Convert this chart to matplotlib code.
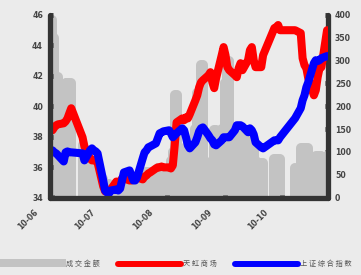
import matplotlib
matplotlib.use("Agg")
import matplotlib.pyplot as plt
import matplotlib.transforms as mtransforms
from matplotlib.lines import Line2D
from matplotlib.patches import Rectangle
import pandas as pd

plt.rcParams['font.family'] = ['Noto Sans CJK SC', 'DejaVu Sans']

# ---------------- data ----------------
trade_dates = (
    ["2010-06-%02d" % d for d in [1, 2, 3, 4, 7, 8, 9, 10, 11, 17, 18, 21, 22, 23, 24, 25, 28, 29, 30]] +
    ["2010-07-%02d" % d for d in [1, 2, 5, 6, 7, 8, 9, 12, 13, 14, 15, 16, 19, 20, 21, 22, 23, 26, 27, 28, 29, 30]] +
    ["2010-08-%02d" % d for d in [2, 3, 4, 5, 6, 9, 10, 11, 12, 13, 16, 17, 18, 19, 20, 23, 24, 25, 26, 27, 30, 31]] +
    ["2010-09-%02d" % d for d in [1, 2, 3, 6, 7, 8, 9, 10, 13, 14, 15, 16, 17, 20, 21, 27, 28, 29, 30]] +
    ["2010-10-%02d" % d for d in [8, 11, 12, 13, 14, 15, 18, 19, 20, 21, 22, 25]]
)

tianhong = [
    38.42, 38.61, 38.75, 38.81, 38.88, 39.0, 39.2, 39.54, 39.87, 37.96, 37.36, 36.57, 36.44, 36.44, 36.44, 36.3, 34.73, 34.4, 34.4,
    34.4, 34.53, 35.05, 35.0, 35.05, 35.25, 35.25, 35.12, 35.12, 35.25, 35.38, 35.32, 35.19, 35.38, 35.45, 35.58, 35.65, 35.91, 35.98, 35.98, 36.04, 35.98,
    35.98, 35.91, 36.11, 37.43, 38.94, 39.2, 39.08, 39.27, 39.2, 39.47, 40.39, 40.72, 41.25, 41.58, 41.71, 42.04, 42.24, 41.58, 41.19, 41.84, 43.36, 43.89,
    43.36, 42.57, 42.37, 42.04, 41.91, 42.5, 42.83, 42.37, 43.03, 43.69, 43.89, 43.03, 42.57, 42.57, 43.36, 45.14, 45.2, 45.34, 45.0,
    45.0, 44.81, 43.16, 42.7, 42.5, 41.84, 40.72, 41.05, 41.91, 42.5, 42.57, 45.0,
]

shanghai = [
    37.1, 36.97, 36.9, 36.77, 36.37, 36.97, 37.03, 36.97, 36.97, 36.9, 36.44, 37.1, 37.23, 37.1, 37.03, 36.9, 35.12, 34.46, 34.33,
    34.26, 34.46, 34.53, 34.46, 34.59, 35.12, 35.65, 35.78, 35.45, 35.12, 35.12, 35.32, 36.57, 36.97, 37.1, 37.3, 37.36, 37.56, 37.89, 38.22, 38.28, 38.35,
    38.42, 38.22, 37.96, 38.09, 38.22, 38.55, 38.42, 37.96, 37.43, 37.23, 37.63, 37.96, 38.35, 38.55, 38.61, 38.09, 37.89, 37.76, 37.49, 37.43, 37.76, 37.96,
    37.96, 37.96, 37.96, 38.42, 38.75, 38.75, 38.75, 38.68, 38.29, 38.55, 38.42, 38.15, 37.63, 37.3, 37.23, 37.76, 37.76, 37.76, 37.96,
    39.21, 39.87, 40.39, 40.72, 41.25, 41.58, 42.83, 43.03, 42.97, 43.03, 43.16, 43.3,
]

turnover = [
    390, 350, 265, 265, 230, 250, 250, 250, 250, 115, 100, 90, 70, 60, 60, 55, 40, 30, 30,
    30, 28, 25, 25, 25, 30, 30, 35, 30, 28, 28, 30, 45, 50, 55, 55, 55, 60, 65, 65, 65, 60,
    65, 80, 100, 224, 224, 80, 80, 110, 115, 110, 150, 230, 230, 290, 290, 70, 70, 80, 147, 147, 150, 150,
    250, 300, 300, 150, 150, 150, 100, 130, 130, 130, 130, 120, 80, 75, 75, 85, 85, 85, 85,
    65, 108, 108, 108, 108, 108, 80, 92, 92, 92, 92, 92,
]

month_ticks = ["2010-06-01", "2010-07-01", "2010-08-01", "2010-09-01", "2010-10-01"]
month_labels = ["10-06", "10-07", "10-08", "10-09", "10-10"]
legend_labels = ["成交金额", "天虹商场", "上证综合指数"]

# ---------------- styling ----------------
BG = "#ebebeb"
SPINE = "#333333"
GRAY = "#c3c3c3"
TXT = "#444444"

dates = pd.to_datetime(trade_dates)

fig = plt.figure(figsize=(3.61, 2.75), dpi=100, facecolor=BG)
ax2 = fig.add_axes([50 / 361, 1 - 197.5 / 275, 278 / 361, 182.5 / 275])
ax = ax2.twinx()
ax2.set_facecolor(BG)
ax.set_zorder(ax2.get_zorder() + 1)
ax.patch.set_visible(False)
ax.xaxis.set_visible(True)

# volume bars (right axis) as thick rounded strokes
vl = ax2.vlines(dates, 0, turnover, colors=GRAY, linewidth=7.2)
vl.set_capstyle("round")

# price lines (left axis)
ax.plot(dates, tianhong, color="#ff0000", linewidth=5.8, solid_capstyle="round", solid_joinstyle="round")
ax.plot(dates, shanghai, color="#0000ff", linewidth=5.8, solid_capstyle="round", solid_joinstyle="round")

x0 = pd.Timestamp("2010-05-30 17:00")
x1 = pd.Timestamp("2010-10-25 12:00")
ax2.set_xlim(x0, x1)
ax2.set_ylim(0, 400)
ax.set_ylim(34, 46)

ax.yaxis.tick_left()
ax2.yaxis.tick_right()
ax.set_yticks([34, 36, 38, 40, 42, 44, 46])
ax2.set_yticks(range(0, 401, 50))

ax.set_xticks(pd.to_datetime(month_ticks))
ax.set_xticklabels(month_labels)
ax2.tick_params(axis="x", bottom=False, labelbottom=False, top=False, labeltop=False)

for a in (ax, ax2):
    for s in a.spines.values():
        s.set_visible(False)
for side, a in (("left", ax), ("bottom", ax), ("right", ax2)):
    sp = a.spines[side]
    sp.set_visible(True)
    sp.set_color(SPINE)
    sp.set_linewidth(3.8)
    sp.set_capstyle("round")

ax.tick_params(axis="y", which="both", direction="in", length=2, width=3.5, color=SPINE,
               labelsize=5.6, labelcolor=TXT, pad=5)
ax2.tick_params(axis="y", which="both", direction="in", length=2, width=3.5, color=SPINE,
                labelsize=5.6, labelcolor=TXT, pad=5)
ax.tick_params(axis="x", which="both", bottom=True, labelbottom=True, top=False, labeltop=False,
               direction="in", length=2, width=3.5, color=SPINE, labelsize=5.6, labelcolor=TXT, pad=7)
for lab in ax.get_yticklabels() + ax2.get_yticklabels():
    lab.set_fontweight("bold")
    lab.set_family("DejaVu Sans")
for lab in ax.get_xticklabels():
    lab.set_rotation(45)
    lab.set_ha("right")
    lab.set_va("top")
    lab.set_fontweight("bold")
    lab.set_family("DejaVu Sans")
    lab.set_transform(lab.get_transform() + mtransforms.ScaledTranslation(-12 / 100, 0, fig.dpi_scale_trans))

# ---------------- legend (bottom, partly off-canvas) ----------------
W, H = 361.0, 275.0
ly = 1 - 263.5 / H
fig.add_artist(Rectangle((0, 1 - 267 / H), 66 / W, 8 / H, transform=fig.transFigure,
                         facecolor=GRAY, edgecolor="none"))
fig.add_artist(Line2D([118 / W, 181 / W], [ly, ly], transform=fig.transFigure,
                      color="#ff0000", linewidth=4.3, solid_capstyle="round"))
fig.add_artist(Line2D([235 / W, 298 / W], [ly, ly], transform=fig.transFigure,
                      color="#0000ff", linewidth=4.3, solid_capstyle="round"))
for xpx, txt in zip([66, 183, 300], legend_labels):
    fig.text(xpx / W, 1 - 266 / H, " ".join(txt), fontsize=5.2, color="#555555",
             ha="left", va="baseline")

fig.savefig("out.png", dpi=100, facecolor=BG)
